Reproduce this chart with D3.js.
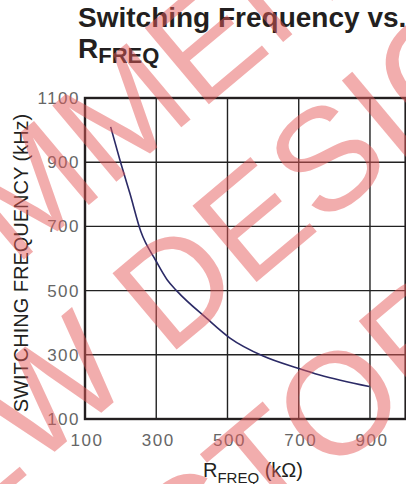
<!DOCTYPE html>
<html>
<head>
<meta charset="utf-8">
<script src="https://cdn.jsdelivr.net/npm/d3@7"></script>
<style>
  body { margin: 0; background: #fff; }
  text { font-family: "Liberation Sans", Arial, sans-serif; }
</style>
</head>
<body>
<div id="plot-container"></div>
<script>
// values
var rfreq = [172, 198, 226, 257, 299, 331, 357, 441, 507, 600, 698, 759, 898];
var fsw   = [1010, 907, 803, 683, 593, 533, 500, 414, 352, 296, 258, 237, 201];
var xTicks = [100, 300, 500, 700, 900];
var yTicks = [100, 300, 500, 700, 900, 1100];
var xGrid = [300, 500, 700, 900];
var yGrid = [300, 500, 700, 900];
var watermarkLines = ['RECOMMENDED', 'NEW DESIGNS', 'CONTACT FACTORY'];

var totalWidth = 406, totalHeight = 484;
var margins = {top: 98, bottom: 65, left: 85, right: 0.4};

var xScale = d3.scaleLinear().domain([100, 1000]).range([margins.left, totalWidth - margins.right]);
var yScale = d3.scaleLinear().domain([100, 1100]).range([totalHeight - margins.bottom, margins.top]);
var line = d3.line().curve(d3.curveMonotoneX).x(function(d) { return xScale(d[0]); }).y(function(d) { return yScale(d[1]); });

var svg = d3.select('#plot-container').append('svg').attr('width', totalWidth).attr('height', totalHeight);

// title
var title = svg.append('text').attr('x', 78).attr('y', 27).attr('font-size', 28).attr('font-weight', 'bold').attr('fill', '#231f20')
  .text('Switching Frequency vs.');
var title2 = svg.append('text').attr('x', 78).attr('y', 58).attr('font-size', 28).attr('font-weight', 'bold').attr('fill', '#231f20');
title2.append('tspan').text('R');
title2.append('tspan').attr('font-size', 22).attr('dy', 5).text('FREQ');

// grid
svg.append('g').selectAll('line.vgrid').data(xGrid).enter().append('line').attr('class', 'vgrid')
  .attr('x1', function(d) { return xScale(d); }).attr('x2', function(d) { return xScale(d); })
  .attr('y1', yScale(1100)).attr('y2', yScale(100)).attr('stroke', '#222').attr('stroke-width', 1.4);
svg.append('g').selectAll('line.hgrid').data(yGrid).enter().append('line').attr('class', 'hgrid')
  .attr('y1', function(d) { return yScale(d); }).attr('y2', function(d) { return yScale(d); })
  .attr('x1', xScale(100)).attr('x2', xScale(1000)).attr('stroke', '#222').attr('stroke-width', 1.4);

// frame
svg.append('rect').attr('x', xScale(100)).attr('y', yScale(1100))
  .attr('width', xScale(1000) - xScale(100)).attr('height', yScale(100) - yScale(1100))
  .attr('fill', 'none').attr('stroke', '#231f20').attr('stroke-width', 2.4);

// curve
svg.append('path').datum(d3.zip(rfreq, fsw)).attr('d', line)
  .attr('fill', 'none').attr('stroke', '#2b2a66').attr('stroke-width', 1.6);

// tick labels
svg.append('g').selectAll('text').data(yTicks).enter().append('text')
  .attr('x', 80).attr('y', function(d) { return yScale(d); }).attr('dy', '0.35em')
  .attr('text-anchor', 'end').attr('font-size', 17).attr('letter-spacing', 1.5).attr('fill', '#666')
  .text(function(d) { return d; });
svg.append('g').selectAll('text').data(xTicks).enter().append('text')
  .attr('x', function(d) { return xScale(d) + 2; }).attr('y', 446)
  .attr('text-anchor', 'middle').attr('font-size', 17).attr('letter-spacing', 1.5).attr('fill', '#666')
  .text(function(d) { return d; });

// axis titles
svg.append('text').attr('transform', 'translate(28,263) rotate(-90)').attr('text-anchor', 'middle')
  .attr('font-size', 20).attr('fill', '#231f20').text('SWITCHING FREQUENCY (kHz)');
var xt = svg.append('text').attr('x', 203).attr('y', 477).attr('font-size', 20).attr('fill', '#231f20');
xt.append('tspan').text('R');
xt.append('tspan').attr('font-size', 15).attr('dy', 6).text('FREQ');
xt.append('tspan').attr('dy', -6).text(' (k\u03a9)');

// watermark: each line is placed so that one letter lands where it sits in the picture
var angle = -40, rad = angle * Math.PI / 180;
var u = [Math.cos(rad), Math.sin(rad)], n = [-Math.sin(rad), Math.cos(rad)];
var anchors = [{ch: 4, a: -100, b: 162}, {ch: 4, a: -49, b: 329}, {ch: 11, a: -99, b: 524}];
var wm = svg.append('g').attr('opacity', 0.49);
wm.selectAll('text').data(watermarkLines).enter().append('text')
  .attr('font-size', 145).attr('fill', '#e65a5a')
  .text(function(d) { return d; })
  .each(function(d, i) {
    var k = anchors[i];
    var s = this.getStartPositionOfChar(k.ch), e = this.getEndPositionOfChar(k.ch);
    var cx = (s.x + e.x) / 2, cy = -0.36 * 145;
    var px = k.a * u[0] + k.b * n[0], py = k.a * u[1] + k.b * n[1];
    var ox = cx * u[0] - cy * u[1], oy = cx * u[1] + cy * u[0];
    d3.select(this).attr('transform', 'translate(' + [px - ox, py - oy] + ') rotate(' + angle + ')');
  });
</script>
</body>
</html>
